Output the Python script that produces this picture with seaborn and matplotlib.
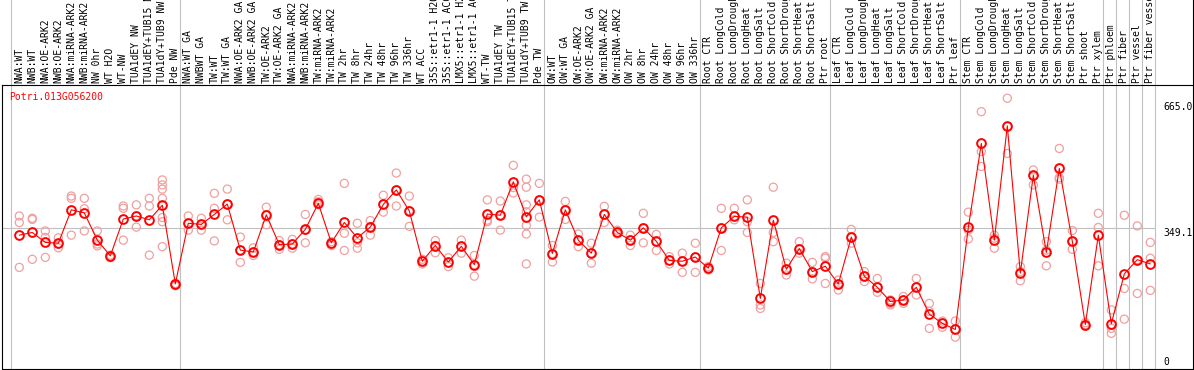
import matplotlib
matplotlib.use("Agg")
import matplotlib.pyplot as plt
import matplotlib.transforms as mtransforms
import numpy as np
import pandas as pd
import seaborn as sns

# --- data ---
gene_id = "Potri.013G056200"

labels = [
    "NWA:WT", "NWB:WT", "NWA:OE-ARK2", "NWB:OE-ARK2", "NWA:miRNA-ARK2",
    "NWB:miRNA-ARK2", "NW 0hr", "WT H2O", "WT-NW", "TUA1dEY NW",
    "TUA1dEY+TUB15 NW", "TUA1dY+TUB9 NW", "Pde NW",
    "NWA:WT GA", "NWBWT GA", "TW:WT", "TW:WT GA", "NWA:OE-ARK2 GA",
    "NWB:OE-ARK2 GA", "TW:OE-ARK2", "TW:OE-ARK2 GA", "NWA:miRNA-ARK2",
    "NWB:miRNA-ARK2", "TW:miRNA-ARK2", "TW:miRNA-ARK2", "TW 2hr", "TW 8hr",
    "TW 24hr", "TW 48hr", "TW 96hr", "TW 336hr", "WT ACC", "35S::etr1-1 H2O",
    "35S::etr1-1 ACC", "LMX5::etr1-1 H2O", "LMX5::etr1-1 ACC", "WT-TW",
    "TUA1dEY TW", "TUA1dEY+TUB15 TW", "TUA1dY+TUB9 TW", "Pde TW",
    "OW:WT", "OW:WT GA", "OW:OE-ARK2", "OW:OE-ARK2 GA", "OW:miRNA-ARK2",
    "OW:miRNA-ARK2", "OW 2hr", "OW 8hr", "OW 24hr", "OW 48hr", "OW 96hr",
    "OW 336hr",
    "Root CTR", "Root LongCold", "Root LongDrought", "Root LongHeat",
    "Root LongSalt", "Root ShortCold", "Root ShortDrought", "Root ShortHeat",
    "Root ShortSalt", "Ptr root",
    "Leaf CTR", "Leaf LongCold", "Leaf LongDrought", "Leaf LongHeat",
    "Leaf LongSalt", "Leaf ShortCold", "Leaf ShortDrought", "Leaf ShortHeat",
    "Leaf ShortSalt", "Ptr leaf",
    "Stem CTR", "Stem LongCold", "Stem LongDrought", "Stem LongHeat",
    "Stem LongSalt", "Stem ShortCold", "Stem ShortDrought", "Stem ShortHeat",
    "Stem ShortSalt", "Ptr shoot", "Ptr xylem",
    "Ptr phloem", "Ptr fiber", "Ptr vessel", "Ptr fiber vessel",
]

group_sizes = [13, 28, 12, 10, 10, 11, 1, 1, 1, 1]

mean_vals = [
    330, 337, 311, 309, 396, 388, 317, 276, 372, 380, 370, 408, 203,
    361, 358, 384, 411, 291, 286, 383, 305, 307, 345, 413, 310, 363, 323, 351,
    410, 448, 393, 262, 303, 260, 301, 253, 385, 382, 469, 378, 422,
    282, 396, 317, 283, 384, 337, 317, 349, 314, 264, 262, 273,
    244, 349, 379, 377, 165, 369, 241, 295, 235, 249,
    203, 325, 223, 194, 157, 161, 194, 124, 100, 84,
    350, 569, 317, 615, 231, 486, 285, 504, 314, 97, 330,
    99, 229, 266, 255,
]

rep_vals = [
    [380, 363, 246], [374, 371, 267], [341, 324, 272], [323, 307, 297],
    [432, 426, 330], [426, 399, 341], [341, 307, 302], [278, 274, 271],
    [406, 400, 317], [409, 380, 351], [426, 406, 278],
    [474, 461, 450, 426, 376, 365, 300], [204, 200, 198],
    [380, 361, 343], [374, 358, 343], [439, 400, 315], [450, 411, 370],
    [325, 291, 259], [297, 286, 277], [403, 383, 357], [316, 305, 293],
    [319, 307, 296], [384, 343, 310], [423, 417, 409], [313, 307, 303],
    [465, 335, 290], [361, 310, 296], [368, 352, 330], [434, 410, 390],
    [492, 448, 406], [432, 394, 353], [267, 262, 255], [316, 303, 284],
    [271, 258, 248], [317, 301, 283], [277, 253, 223], [422, 369, 365],
    [419, 382, 343], [512, 454, 440], [476, 455, 409, 391, 355, 333, 255],
    [465, 422, 377],
    [303, 282, 260], [418, 396, 371], [333, 317, 300], [309, 283, 257],
    [405, 384, 363], [343, 337, 333], [330, 317, 303], [387, 349, 310],
    [332, 314, 290], [274, 264, 255], [283, 262, 233], [309, 273, 233],
    [248, 244, 239], [400, 349, 290], [400, 379, 370], [422, 365, 337],
    [204, 148, 139], [455, 337, 313], [257, 241, 226], [313, 295, 283],
    [259, 235, 216], [274, 270, 204],
    [213, 203, 187], [345, 325, 309], [235, 223, 209], [217, 194, 181],
    [161, 152, 148], [170, 161, 152], [217, 194, 174], [152, 131, 87],
    [106, 100, 90], [106, 84, 64],
    [390, 343, 320], [652, 548, 509], [330, 322, 296], [687, 613, 543],
    [248, 235, 211], [500, 483, 461], [313, 291, 250], [556, 480, 476],
    [342, 314, 293], [102, 97, 93], [387, 350, 250],
    [135, 87, 74], [382, 191, 111], [354, 266, 178], [311, 270, 186],
]

ytick_vals = [0, 349.1, 665.0]
ytick_text = ["0", "349.1", "665.0"]
ytick_va = ["center", "top", "center"]
ref_line = 349.1

# --- tidy frames for seaborn ---
pos = np.arange(len(labels))
df_mean = pd.DataFrame({"pos": pos, "value": mean_vals})
df_rep = pd.DataFrame(
    [(i, v) for i, vals in enumerate(rep_vals) for v in vals],
    columns=["pos", "value"],
)

sns.set_style("white")
plt.rcParams["font.family"] = ["DejaVu Sans Mono"]

W, H = 1194, 370
fig = plt.figure(figsize=(W / 100, H / 100), dpi=100)
left_px, right_px, split_px, bottom_px = 1.5, 1192.7, 85, 369
ax_lab = fig.add_axes([left_px / W, (H - split_px) / H,
                       (right_px - left_px) / W, split_px / H])
ax = fig.add_axes([left_px / W, (H - bottom_px) / H,
                   (right_px - left_px) / W, (bottom_px - split_px) / H])

xlim = (-1.37, 90.26)
grey = "#c0c0c0"
red = "#ff0000"
pink = "#f0a0a0"

# group separators (grey verticals through labels and plot)
bounds = np.cumsum([0] + group_sizes) - 0.62
for b in bounds:
    ax.axvline(b, color=grey, lw=0.8, zorder=0)
    ax_lab.axvline(b, color=grey, lw=0.8, zorder=0)
ax.hlines(ref_line, xlim[0], bounds[-1], color=grey, lw=0.8, zorder=0)

# replicates
sns.scatterplot(data=df_rep, x="pos", y="value", marker="o", s=34,
                linewidth=0.9, ax=ax, zorder=2, legend=False)
pc = ax.collections[-1]
pc.set_facecolor("none")
pc.set_edgecolor(pink)

# means
sns.lineplot(data=df_mean, x="pos", y="value", estimator=None, color=red,
             lw=0.8, marker="o", markersize=6.3, markerfacecolor="none",
             markeredgecolor=red, markeredgewidth=1.4, ax=ax, zorder=3)

ax.set_xlim(*xlim)
ax.set_ylim(-19, 721.5)
ax.set_xticks([])
ax.set_yticks([])
ax.set_xlabel("")
ax.set_ylabel("")
for sp in ax.spines.values():
    sp.set_visible(True)
    sp.set_color("black")
    sp.set_linewidth(0.8)

ax.text(0.0066, 0.958, gene_id, transform=ax.transAxes, color=red,
        fontsize=7, ha="left", va="center")

ytrans = mtransforms.blended_transform_factory(ax.transAxes, ax.transData)
for v, t, va in zip(ytick_vals, ytick_text, ytick_va):
    ax.text(0.9755, v, t, transform=ytrans, fontsize=7, color="black",
            ha="left", va=va, clip_on=True)

# sample labels
ax_lab.set_xlim(*xlim)
ax_lab.set_ylim(0, 1)
ax_lab.set_xticks([])
ax_lab.set_yticks([])
for name, sp in ax_lab.spines.items():
    sp.set_visible(name == "right")
    sp.set_color("black")
    sp.set_linewidth(0.8)
ltrans = mtransforms.blended_transform_factory(ax_lab.transData, ax_lab.transAxes)
for i, lab in enumerate(labels):
    ax_lab.text(i, 0.02, lab, transform=ltrans, rotation=90, fontsize=7,
                ha="center", va="bottom", color="black", clip_on=True)

fig.savefig("out.png", dpi=100)
